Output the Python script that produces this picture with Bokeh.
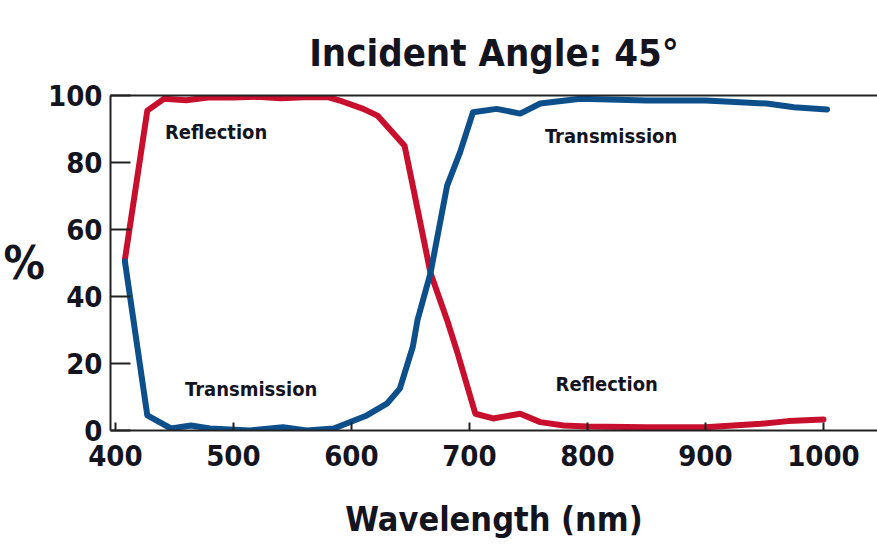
from bokeh.plotting import figure
from bokeh.models import Range1d, FixedTicker, LinearAxis, Label
from bokeh.embed import file_html
from bokeh.resources import INLINE

# ---- data ----
wl_reflection = [408, 427, 441, 460, 480, 500, 520, 540, 560, 580, 590, 610, 622,
                 645, 652, 667, 681, 690, 705, 720, 743, 760, 780, 800, 850, 900,
                 947, 970, 1000]
reflection = [51, 95.5, 99, 98.6, 99.5, 99.4, 99.6, 99.2, 99.5, 99.5, 98.5, 96, 94,
              85, 73, 47, 33, 23, 5, 3.6, 5, 2.5, 1.5, 1.2, 1, 1,
              2, 2.8, 3.3]

wl_transmission = [408, 427, 447, 464, 480, 514, 542, 562, 585, 613, 630, 641, 652,
                   656, 667, 681, 692, 703, 723, 743, 760, 794, 850, 900, 952, 975, 1003]
transmission = [50.5, 4.5, 0.6, 1.5, 0.6, 0, 1, 0, 0.6, 4.5, 8, 12.5, 25,
                 33, 47, 73, 83, 95, 96, 94.6, 97.6, 99, 98.5, 98.5, 97.6, 96.5, 95.8]

x_ticks = [400, 500, 600, 700, 800, 900, 1000]
y_ticks = [0, 20, 40, 60, 80, 100]

FONT = "DejaVu Sans Condensed"
TXT = "#14141f"
RED = "#c8102e"
BLUE = "#0d4f8b"

p = figure(width=877, height=557, output_backend="svg", toolbar_location=None,
           x_range=Range1d(395.8, 1045.8), y_range=Range1d(0, 100),
           min_border_left=110, min_border_right=0, min_border_top=95,
           min_border_bottom=127)
p.outline_line_color = None
p.xgrid.grid_line_color = None
p.ygrid.grid_line_color = None
p.background_fill_color = "white"
p.border_fill_color = "white"

p.title.text = "Incident Angle: 45°"
p.title.align = "center"
p.title.text_font = FONT
p.title.text_font_style = "bold"
p.title.text_font_size = "38px"
p.title.text_color = TXT
p.title.standoff = 41
p.title.offset = 6

p.line(wl_reflection, reflection, line_color=RED, line_width=6, line_join="round", line_cap="round")
p.line(wl_transmission, transmission, line_color=BLUE, line_width=6, line_join="round", line_cap="round")

for ax in (p.xaxis[0], p.yaxis[0]):
    ax.axis_line_width = 2
    ax.axis_line_color = "#222222"
    ax.major_tick_line_width = 2
    ax.major_tick_line_color = "#222222"
    ax.minor_tick_line_color = None
    ax.major_tick_out = 0
    ax.major_label_text_font = FONT
    ax.major_label_text_font_style = "bold"
    ax.major_label_text_font_size = "29px"
    ax.major_label_text_color = TXT
    ax.axis_label_text_font = FONT
    ax.axis_label_text_font_style = "bold"
    ax.axis_label_text_color = TXT

p.xaxis[0].ticker = FixedTicker(ticks=x_ticks)
p.xaxis[0].major_tick_in = 8
p.xaxis[0].major_label_standoff = 14
p.xaxis[0].axis_label = "Wavelength (nm)"
p.xaxis[0].axis_label_text_font_size = "34px"
p.xaxis[0].axis_label_standoff = 30

p.yaxis[0].ticker = FixedTicker(ticks=y_ticks)
p.yaxis[0].major_tick_in = 20
p.yaxis[0].major_label_standoff = 8
p.yaxis[0].axis_label = "%"
p.yaxis[0].axis_label_orientation = "horizontal"
p.yaxis[0].axis_label_text_font_size = "46px"
p.yaxis[0].axis_label_standoff = 0

top = LinearAxis(ticker=FixedTicker(ticks=[]), axis_line_width=2, axis_line_color="#222222",
                 major_tick_line_color=None, minor_tick_line_color=None,
                 major_label_text_font_size="0px")
p.add_layout(top, "above")

def curve_label(x, y, t):
    p.add_layout(Label(x=x, y=y, text=t, text_align="left", text_baseline="middle",
                       text_font=FONT, text_font_style="bold", text_font_size="20px",
                       text_color=TXT))

curve_label(442, 89.1, "Reflection")
curve_label(459, 12.4, "Transmission")
curve_label(764, 87.8, "Transmission")
curve_label(773, 13.9, "Reflection")

open("out.html", "w").write(file_html(p, INLINE))
